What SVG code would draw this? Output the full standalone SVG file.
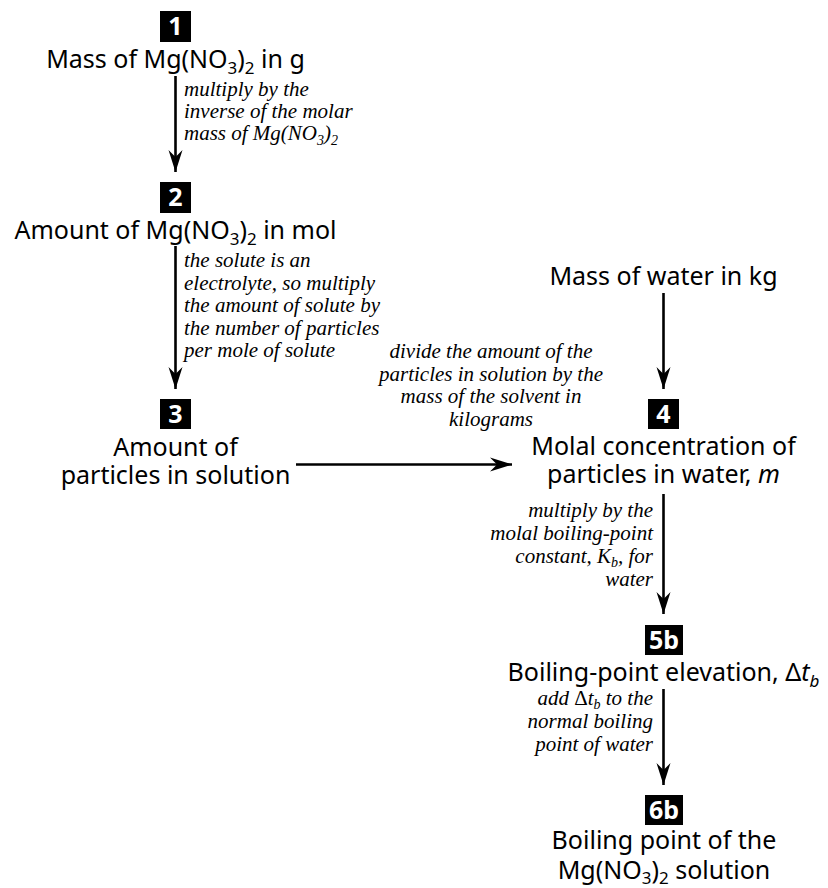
<svg xmlns="http://www.w3.org/2000/svg" width="828" height="888" viewBox="0 0 828 888">
<style>
.node{font-family:"Noto Sans","Open Sans","DejaVu Sans",sans-serif;font-size:25px;fill:#000;text-anchor:middle}
.num{font-family:"Noto Sans","DejaVu Sans",sans-serif;font-size:25px;font-weight:bold;fill:#fff;text-anchor:middle}
.lbl{font-family:"Liberation Serif","Times New Roman",serif;font-size:21px;font-style:italic;fill:#000}
.up{font-style:normal}
.it{font-style:italic}
.line{stroke:#000;stroke-width:2.6;fill:none}
</style>
<defs>
<marker id="ah" markerUnits="userSpaceOnUse" markerWidth="24" markerHeight="16" viewBox="-23 -8 24 16" refX="0" refY="0" orient="auto">
<path d="M0,0 L-22,-7 L-15,0 L-22,7 Z" fill="#000"/>
</marker>
</defs>
<rect width="828" height="888" fill="#fff"/>

<g id="connectors">
<line class="line" x1="175.5" y1="76" x2="175.5" y2="172" marker-end="url(#ah)"/>
<line class="line" x1="175.5" y1="246" x2="175.5" y2="389" marker-end="url(#ah)"/>
<line class="line" x1="296" y1="464.5" x2="512" y2="464.5" marker-end="url(#ah)"/>
<line class="line" x1="663.5" y1="293" x2="663.5" y2="389" marker-end="url(#ah)"/>
<line class="line" x1="663.5" y1="494" x2="663.5" y2="614" marker-end="url(#ah)"/>
<line class="line" x1="663.5" y1="689" x2="663.5" y2="785" marker-end="url(#ah)"/>
<text class="lbl"><tspan x="184" y="96">multiply by the</tspan><tspan x="184" y="118">inverse of the molar</tspan><tspan x="184" y="140">mass of Mg(NO<tspan font-size="14" dy="5">3</tspan><tspan dy="-5">)</tspan><tspan font-size="14" dy="5">2</tspan></tspan></text>
<text class="lbl"><tspan x="184" y="267">the solute is an</tspan><tspan x="184" y="289.5">electrolyte, so multiply</tspan><tspan x="184" y="312">the amount of solute by</tspan><tspan x="184" y="334.5">the number of particles</tspan><tspan x="184" y="357">per mole of solute</tspan></text>
<text class="lbl" text-anchor="middle"><tspan x="491" y="358">divide the amount of the</tspan><tspan x="491" y="380.5">particles in solution by the</tspan><tspan x="491" y="403">mass of the solvent in</tspan><tspan x="491" y="425.5">kilograms</tspan></text>
<text class="lbl" text-anchor="end"><tspan x="653" y="517">multiply by the</tspan><tspan x="653" y="540">molal boiling-point</tspan><tspan x="653" y="563">constant, K<tspan font-size="14" dy="4">b</tspan><tspan dy="-4">, for</tspan></tspan><tspan x="653" y="586">water</tspan></text>
<text class="lbl" text-anchor="end"><tspan x="653" y="705">add <tspan class="up">Δ</tspan>t<tspan font-size="14" dy="4">b</tspan><tspan dy="-4"> to the</tspan></tspan><tspan x="653" y="728">normal boiling</tspan><tspan x="653" y="751">point of water</tspan></text>
</g>

<g id="n1">
<rect x="160" y="11" width="31" height="31" fill="#000"/>
<text class="num" x="175.5" y="35">1</text>
<text class="node" x="175.5" y="68">Mass of Mg(NO<tspan font-size="17" dy="6">3</tspan><tspan dy="-6">)</tspan><tspan font-size="17" dy="6">2</tspan><tspan dy="-6"> in g</tspan></text>
</g>

<g id="n2">
<rect x="160" y="182" width="31" height="31" fill="#000"/>
<text class="num" x="175.5" y="206">2</text>
<text class="node" x="175.5" y="239">Amount of Mg(NO<tspan font-size="17" dy="6">3</tspan><tspan dy="-6">)</tspan><tspan font-size="17" dy="6">2</tspan><tspan dy="-6"> in mol</tspan></text>
</g>

<g id="n3">
<rect x="160" y="399" width="31" height="30" fill="#000"/>
<text class="num" x="175.5" y="423">3</text>
<text class="node" x="175.5" y="456">Amount of</text>
<text class="node" x="175.5" y="484">particles in solution</text>
</g>

<g id="nw">
<text class="node" x="663.5" y="285">Mass of water in kg</text>
</g>

<g id="n4">
<rect x="648" y="399" width="31" height="30" fill="#000"/>
<text class="num" x="663.5" y="423">4</text>
<text class="node" x="663.5" y="455">Molal concentration of</text>
<text class="node" x="663.5" y="483">particles in water, <tspan class="it">m</tspan></text>
</g>

<g id="n5b">
<rect x="645" y="625" width="38" height="30" fill="#000"/>
<text class="num" x="664" y="649">5b</text>
<text class="node" x="663.5" y="681">Boiling-point elevation, Δ<tspan class="it">t</tspan><tspan class="it" font-size="17" dy="6">b</tspan></text>
</g>

<g id="n6b">
<rect x="645" y="795" width="38" height="30" fill="#000"/>
<text class="num" x="664" y="819">6b</text>
<text class="node" x="664" y="849">Boiling point of the</text>
<text class="node" x="664" y="879">Mg(NO<tspan font-size="17" dy="5">3</tspan><tspan dy="-5">)</tspan><tspan font-size="17" dy="5">2</tspan><tspan dy="-5"> solution</tspan></text>
</g>
</svg>
